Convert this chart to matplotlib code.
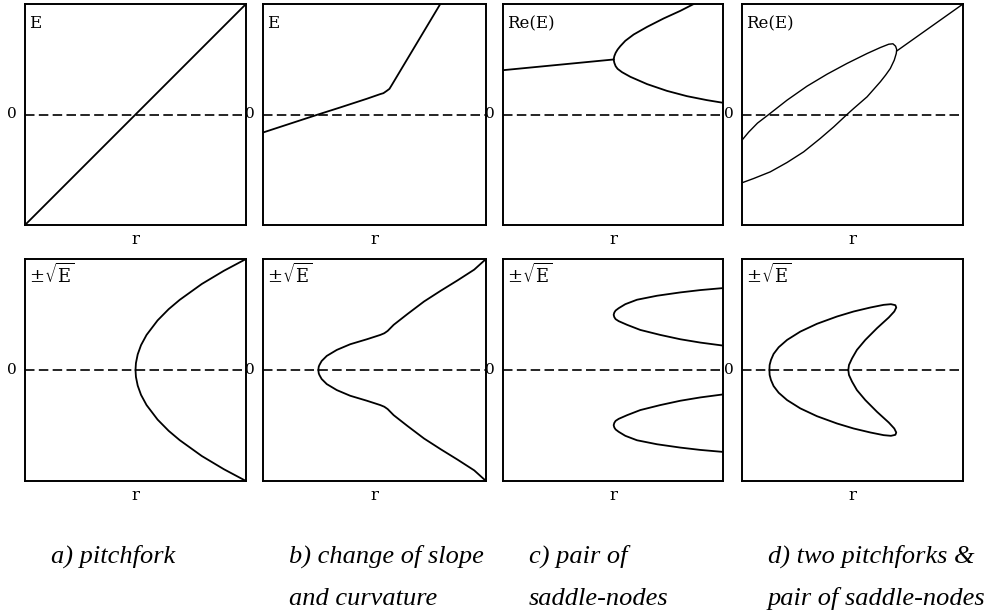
import numpy as np
import matplotlib
matplotlib.use("Agg")
import matplotlib.pyplot as plt

plt.rcParams["mathtext.fontset"] = "dejavuserif"

# ---------------- data (r on [0, 1], ordinate on [-1, 1]) ----------------
# a) pitchfork
a_top_r = [0.0, 1.0]
a_top_E = [-1.0, 1.0]
a_bot_r = [0.5, 0.502, 0.51, 0.525, 0.55, 0.6, 0.65, 0.7, 0.8, 0.9, 1.0]
a_bot_y = [0.0, 0.063, 0.141, 0.224, 0.316, 0.447, 0.548, 0.632, 0.775, 0.894, 1.0]

# b) change of slope and curvature
b_top_r = [0.0, 0.247, 0.345, 0.465, 0.525, 0.540, 0.555, 0.567, 0.577, 0.795]
b_top_E = [-0.163, 0.0, 0.063, 0.142, 0.184, 0.193, 0.214, 0.232, 0.265, 1.0]
b_bot_r = [0.248, 0.250, 0.253, 0.263, 0.286, 0.331, 0.391, 0.466, 0.526, 0.544,
           0.559, 0.586, 0.647, 0.722, 0.797, 0.872, 0.947, 1.0]
b_bot_y = [0.0, 0.030, 0.045, 0.081, 0.127, 0.181, 0.232, 0.277, 0.316, 0.331,
           0.352, 0.407, 0.503, 0.617, 0.714, 0.807, 0.904, 1.0]

# c) pair of saddle-nodes
c_top_line_r = [0.0, 0.503]
c_top_line_E = [0.401, 0.498]
c_top_up_r = [0.503, 0.506, 0.512, 0.521, 0.533, 0.556, 0.594, 0.655, 0.730, 0.806, 0.867]
c_top_up_E = [0.498, 0.528, 0.558, 0.588, 0.618, 0.667, 0.724, 0.793, 0.869, 0.938, 1.0]
c_top_lo_r = [0.503, 0.506, 0.512, 0.521, 0.541, 0.579, 0.655, 0.745, 0.836, 0.927, 1.0]
c_top_lo_E = [0.498, 0.468, 0.437, 0.413, 0.383, 0.341, 0.275, 0.214, 0.166, 0.130, 0.106]
c_bot_r = [1.0, 0.897, 0.806, 0.700, 0.609, 0.556, 0.526, 0.512, 0.506, 0.503,
           0.506, 0.512, 0.526, 0.564, 0.624, 0.715, 0.806, 0.897, 1.0]
c_bot_y = [0.738, 0.720, 0.699, 0.669, 0.633, 0.593, 0.557, 0.536, 0.518, 0.497,
           0.476, 0.458, 0.440, 0.407, 0.361, 0.316, 0.277, 0.247, 0.220]

# d) two pitchforks & pair of saddle-nodes
d_top_loop_r = [0.0, 0.030, 0.070, 0.121, 0.204, 0.294, 0.385, 0.475, 0.566, 0.626,
                0.664, 0.683, 0.695, 0.700, 0.698, 0.689, 0.671, 0.650, 0.626, 0.566,
                0.505, 0.475, 0.415, 0.354, 0.279, 0.204, 0.128, 0.053, 0.0]
d_top_loop_E = [-0.232, -0.160, -0.078, 0.0, 0.130, 0.256, 0.365, 0.462, 0.552, 0.606,
                0.636, 0.640, 0.618, 0.588, 0.552, 0.492, 0.416, 0.357, 0.296, 0.160,
                0.054, 0.0, -0.112, -0.217, -0.338, -0.434, -0.519, -0.579, -0.618]
d_top_line_r = [0.701, 1.0]
d_top_line_E = [0.576, 1.0]
d_bot_r = [0.124, 0.125, 0.131, 0.143, 0.166, 0.204, 0.264, 0.339, 0.430, 0.505,
           0.581, 0.641, 0.674, 0.694, 0.698, 0.689, 0.664, 0.611, 0.558, 0.520,
           0.498, 0.484, 0.481]
d_bot_y = [0.0, 0.045, 0.090, 0.145, 0.205, 0.271, 0.346, 0.416, 0.482, 0.527,
           0.563, 0.587, 0.593, 0.584, 0.563, 0.527, 0.473, 0.377, 0.271, 0.181,
           0.105, 0.045, 0.0]

top_labels = ["E", "E", "Re(E)", "Re(E)"]
bottom_label = r"$\pm\sqrt{\mathrm{E}}$"
captions = [["a) pitchfork"],
            ["b) change of slope", "and curvature"],
            ["c) pair of", "saddle-nodes"],
            ["d) two pitchforks &", "pair of saddle-nodes"]]

# ---------------- layout ----------------
W, H = 989, 615
fig = plt.figure(figsize=(W / 100, H / 100), dpi=100)
col_px = [(25, 246), (263, 486), (503, 723), (742, 963)]
row_px = [(4, 225), (259, 481)]

serif = "DejaVu Serif"
lw = 1.3


def make_axes(col, row):
    x0, x1 = col_px[col]
    y0, y1 = row_px[row]
    ax = fig.add_axes([x0 / W, 1 - y1 / H, (x1 - x0) / W, (y1 - y0) / H])
    ax.set_xlim(0, 1)
    ax.set_ylim(-1, 1)
    ax.set_xticks([])
    ax.set_yticks([])
    for s in ax.spines.values():
        s.set_linewidth(1.4)
    ax.axhline(0, color="black", lw=1.2, dashes=(5.7, 2.6))
    ax.text(-13 / (x1 - x0), 0.5, "0", transform=ax.transAxes, ha="center",
            va="center", fontsize=11, family=serif)
    ax.text(0.5, -14 / (y1 - y0), "r", transform=ax.transAxes, ha="center",
            va="center", fontsize=12, family=serif)
    return ax


axes_top = [make_axes(c, 0) for c in range(4)]
axes_bot = [make_axes(c, 1) for c in range(4)]

for c, ax in enumerate(axes_top):
    ax.text(0.02, 0.95, top_labels[c], transform=ax.transAxes, ha="left",
            va="top", fontsize=12, family=serif)
for ax in axes_bot:
    ax.text(0.02, 0.985, bottom_label, transform=ax.transAxes, ha="left",
            va="top", fontsize=13)

k = dict(color="black", lw=lw, solid_capstyle="round", solid_joinstyle="round")

# a
axes_top[0].plot(a_top_r, a_top_E, **k)
axes_bot[0].plot(a_bot_r, a_bot_y, **k)
axes_bot[0].plot(a_bot_r, -np.array(a_bot_y), **k)

# b
axes_top[1].plot(b_top_r, b_top_E, **k)
axes_bot[1].plot(b_bot_r, b_bot_y, **k)
axes_bot[1].plot(b_bot_r, -np.array(b_bot_y), **k)

# c
axes_top[2].plot(c_top_line_r, c_top_line_E, **k)
axes_top[2].plot(c_top_up_r, c_top_up_E, **k)
axes_top[2].plot(c_top_lo_r, c_top_lo_E, **k)
axes_bot[2].plot(c_bot_r, c_bot_y, **k)
axes_bot[2].plot(c_bot_r, -np.array(c_bot_y), **k)

# d
kd = dict(k, lw=1.0)
axes_top[3].plot(d_top_loop_r, d_top_loop_E, **kd)
axes_top[3].plot(d_top_line_r, d_top_line_E, **kd)
axes_bot[3].plot(d_bot_r, d_bot_y, **k)
axes_bot[3].plot(d_bot_r, -np.array(d_bot_y), **k)

# captions
for c, lines in enumerate(captions):
    x = (col_px[c][0] + 26) / W
    for i, line in enumerate(lines):
        y = 1 - (556 + 43 * i) / H
        fig.text(x, y, line, ha="left", va="center", fontsize=19,
                 family="Liberation Serif", style="italic")

fig.savefig("out.png", dpi=100)
